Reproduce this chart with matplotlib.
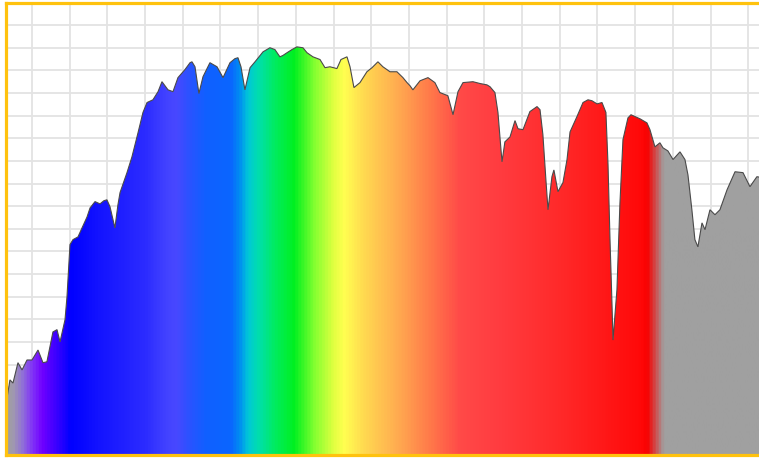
import numpy as np
import matplotlib
matplotlib.use("Agg")
import matplotlib.pyplot as plt
from matplotlib.colors import LinearSegmentedColormap
from matplotlib.patches import Polygon

# measured spectrum (nm, relative intensity %)
wavelength = [
    333.0, 335.4, 337.4, 340.7, 343.4, 346.7, 350.0, 354.0, 357.3, 359.9,
    363.9, 366.6, 368.6, 371.9, 373.2, 375.2, 377.2, 380.5, 383.2, 386.5,
    388.5, 391.8, 395.1, 397.7, 399.7, 401.7, 405.0, 407.0, 408.4, 413.0,
    416.3, 420.3, 423.6, 426.3, 430.2, 433.6, 436.2, 440.2, 443.5, 446.8,
    451.5, 454.8, 456.1, 458.1, 460.7, 463.4, 468.0, 472.7, 476.7, 481.3,
    484.6, 486.6, 488.6, 491.2, 494.6, 497.9, 503.2, 507.8, 511.1, 514.4,
    516.4, 519.1, 522.4, 525.7, 529.7, 532.4, 536.3, 541.0, 544.3, 547.6,
    552.2, 554.9, 558.9, 560.9, 563.5, 567.5, 572.1, 575.5, 579.4, 582.7,
    587.4, 592.0, 596.0, 598.7, 600.7, 602.6, 607.3, 612.6, 617.2, 620.5,
    625.8, 629.2, 632.5, 635.8, 642.4, 647.1, 651.7, 653.7, 657.0, 659.0,
    661.0, 661.7, 663.6, 667.0, 670.3, 672.3, 675.6, 680.2, 684.9, 686.9,
    688.8, 690.8, 692.2, 694.8, 696.1, 698.8, 702.1, 704.8, 706.8, 711.4,
    715.4, 718.7, 721.3, 724.7, 728.0, 730.6, 732.0, 733.3, 734.6, 735.3,
    736.6, 737.9, 739.9, 741.9, 745.2, 747.2, 753.2, 757.8, 759.8, 763.1,
    766.4, 768.4, 771.7, 775.1, 779.7, 783.0, 785.0, 787.6, 789.6, 791.6,
    794.3, 796.3, 799.6, 802.9, 806.2, 810.9, 816.2, 821.5, 826.1, 830.7,
    834.5,
]
intensity = [
    11.7, 16.6, 15.9, 20.4, 18.8, 21.0, 21.0, 23.2, 20.4, 20.6,
    27.2, 27.7, 25.0, 29.9, 34.9, 46.5, 47.6, 48.2, 50.2, 52.6,
    54.6, 56.0, 55.5, 56.2, 56.4, 54.9, 50.2, 55.3, 58.0, 62.4,
    65.9, 71.2, 75.7, 77.9, 78.5, 80.3, 82.5, 80.7, 80.3, 83.4,
    85.2, 86.7, 86.9, 85.8, 79.9, 83.6, 86.7, 85.8, 83.4, 86.7,
    87.6, 87.8, 85.8, 80.7, 85.6, 86.9, 89.1, 90.0, 89.6, 88.0,
    88.3, 88.9, 89.6, 90.2, 90.0, 88.9, 88.0, 87.4, 85.6, 85.8,
    85.4, 87.4, 88.0, 85.8, 81.2, 82.3, 84.7, 85.6, 86.9, 85.8,
    84.7, 84.7, 83.4, 82.3, 81.6, 80.7, 82.7, 83.4, 82.3, 80.1,
    79.4, 75.2, 80.3, 82.3, 82.5, 82.1, 81.8, 81.4, 80.1, 75.7,
    67.5, 64.8, 69.2, 70.3, 73.9, 72.1, 71.9, 75.9, 77.0, 76.3,
    70.8, 60.8, 54.2, 61.5, 63.0, 58.2, 60.2, 65.3, 71.4, 74.8,
    77.9, 78.5, 78.3, 77.6, 77.9, 75.7, 64.1, 47.6, 33.6, 25.4,
    31.0, 36.5, 55.7, 69.7, 74.5, 75.2, 74.3, 73.4, 71.9, 68.1,
    69.0, 67.9, 67.2, 65.3, 67.0, 65.3, 61.9, 54.2, 47.6, 46.0,
    51.3, 49.8, 54.2, 53.1, 54.2, 58.6, 62.6, 62.4, 59.3, 61.5,
    61.3,
]

# colour stops of the spectrum fill
grad_nm = [333.1, 337.0, 343.0, 350.0, 356.0, 366.0, 375.0, 395.0, 425.0, 440.0,
           446.0, 452.0, 465.0, 482.0, 488.0, 493.0, 501.0, 511.0, 524.0, 537.0,
           550.0, 557.0, 571.0, 594.0, 614.0, 634.0, 660.0, 700.0, 740.0, 755.0,
           759.0, 770.0, 834.1]
grad_colors = ['#a0a0a0', '#a098b0', '#9070d8', '#8030f8', '#7000ff', '#3800ff', '#0000ff',
               '#1414ff', '#2c2cff', '#4444ff', '#4848ff', '#3050ff', '#1060ff', '#0a66ff',
               '#0090f0', '#00c8d8', '#00e0a8', '#00ec60', '#00f020', '#80ff30', '#e0ff40',
               '#ffff50', '#ffd850', '#ffa850', '#ff7a4a', '#ff4a48', '#ff3c40', '#ff2a2a',
               '#ff1212', '#ff0808', '#f80000', '#a0a0a0', '#a0a0a0']

xmin, xmax = 333.1, 834.1

fig = plt.figure(figsize=(7.59, 4.59), dpi=100)
ax = fig.add_axes([0.00856, 0.00871, 0.9954, 0.9858])
ax.set_xlim(xmin, xmax)
ax.set_ylim(0, 100)
ax.set_xticks(np.arange(350, xmax, 25))
ax.set_yticks(np.arange(0, 101, 5))
ax.grid(True, color='#e3e3e3', linewidth=1.3)
ax.set_axisbelow(True)
ax.tick_params(length=0, labelbottom=False, labelleft=False)

pos = [(w - xmin) / (xmax - xmin) for w in grad_nm]
cmap = LinearSegmentedColormap.from_list('spectrum', list(zip(pos, grad_colors)))
grad = np.linspace(0, 1, 1500).reshape(1, -1)
img = ax.imshow(grad, cmap=cmap, aspect='auto', extent=[xmin, xmax, 0, 100],
                interpolation='bilinear', zorder=2)

verts = [(wavelength[0], 0)] + list(zip(wavelength, intensity)) + [(wavelength[-1], 0)]
poly = Polygon(verts, closed=True, facecolor='none', edgecolor='#4a4a4a',
               linewidth=0.8, zorder=3)
ax.add_patch(poly)
img.set_clip_path(poly)

for s in ax.spines.values():
    s.set_color('#ffc20e')
    s.set_linewidth(2.3)
    s.set_zorder(5)

fig.savefig('out.png', dpi=100)
